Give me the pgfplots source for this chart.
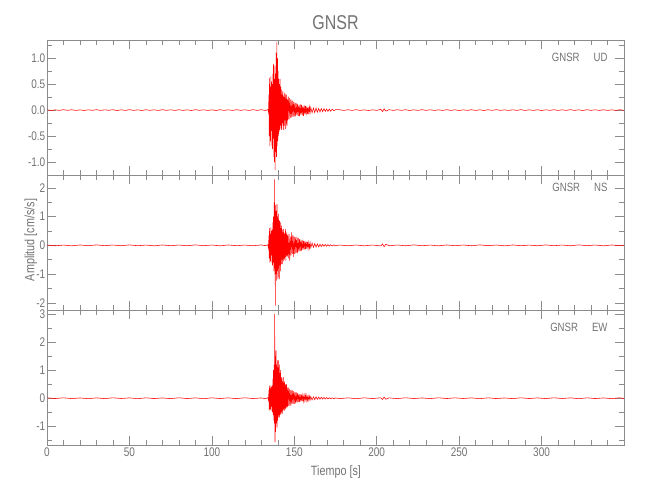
\documentclass[border=0pt]{standalone}
\usepackage{fontspec}
\setmainfont{Liberation Sans}[FakeStretch=0.8]
\usepackage{pgfplots}
\usepackage{pgfplotstable}
\pgfplotsset{compat=1.18}
\definecolor{axgray}{rgb}{0.55,0.55,0.55}
\definecolor{txgray}{rgb}{0.45,0.45,0.45}
\definecolor{seisred}{rgb}{1,0,0}

\pgfplotstableread{
t y
0 0.006
2.5 -0.008
5 0.005
7.5 -0.006
10 0.008
12.5 -0.005
15 0.007
17.5 -0.007
20 0.004
22.5 -0.008
25 0.006
27.5 -0.005
30 0.008
32.5 -0.007
35 0.006
37.5 -0.004
40 0.007
42.5 -0.008
45 0.005
47.5 -0.006
50 0.008
52.5 -0.006
55 0.005
57.5 -0.008
60 0.007
62.5 -0.005
65 0.006
67.5 -0.007
70 0.008
72.5 -0.005
75 0.006
77.5 -0.007
80 0.007
82.5 -0.006
85 0.005
87.5 -0.008
90 0.008
92.5 -0.005
95 0.006
97.5 -0.007
100 0.005
102.5 -0.008
105 0.007
107.5 -0.006
110 0.006
112.5 -0.007
115 0.008
117.5 -0.005
120 0.006
122.5 -0.007
125 0.008
127.5 -0.006
130 0.007
132.5 -0.008
134.0 0.01
134.4 -0.05
134.6 0.3
134.8 -0.5
135.0 0.62
135.2 -0.7
135.4 0.45
135.6 -0.6
135.8 0.65
136.0 -0.4
136.2 0.55
136.4 -0.68
136.6 0.5
136.8 -0.75
137.0 0.7
137.2 -0.55
137.4 0.88
137.6 -0.9
137.8 0.6
138.0 -1.0
138.2 0.85
138.4 -1.15
138.6 0.7
138.8 -0.8
139.0 1.1
139.2 -0.9
139.4 1.32
139.6 -0.7
139.8 1.0
140.0 -0.6
140.2 0.75
140.4 -0.5
140.6 0.6
140.8 -0.42
141.0 0.5
141.2 -0.38
141.4 0.6
141.6 -0.3
141.8 0.45
142.0 -0.35
142.2 0.4
142.4 -0.38
142.6 0.3
142.8 -0.25
143.0 0.36
143.2 -0.3
143.4 0.28
143.6 -0.38
143.8 0.25
144.0 -0.3
144.2 0.33
144.4 -0.2
144.6 0.3
144.8 -0.36
145.0 0.22
145.2 -0.25
145.4 0.3
145.6 -0.3
145.8 0.2
146.0 -0.2
146.4 0.26
146.8 -0.18
147.2 0.23
147.6 -0.15
148.0 0.2
148.4 -0.14
148.8 0.18
149.2 -0.13
149.6 0.16
150.0 -0.12
150.4 0.15
150.8 -0.12
151.2 0.13
151.6 -0.1
152.0 0.12
152.4 -0.11
152.8 0.1
153.2 -0.12
153.6 0.11
154.0 -0.09
154.4 0.1
154.8 -0.1
155.2 0.08
155.6 -0.11
156.0 0.09
156.4 -0.08
156.8 0.08
157.2 -0.1
157.6 0.07
158.0 -0.07
158.4 0.06
158.8 -0.08
159.2 0.06
159.6 -0.05
160.0 0.05
160.8 -0.05
161.6 0.04
162.4 -0.05
163.2 0.04
164.0 -0.04
164.8 0.03
165.6 -0.035
166.4 0.03
167.2 -0.03
168.0 0.025
168.8 -0.025
169.6 0.02
170.4 -0.025
171.2 0.02
172.0 -0.02
173.0 0.015
174.0 -0.012
175.0 0.01
177.5 0.006
180 -0.007
182.5 0.007
185 -0.006
187.5 0.008
190 -0.006
192.5 0.005
195 -0.008
197.5 0.006
200 -0.007
202.5 0.015
203.5 -0.03
204.5 0.025
205.5 -0.02
207.5 0.008
210 -0.006
212.5 0.007
215 -0.005
217.5 0.007
220 -0.008
222.5 0.006
225 -0.006
227.5 0.008
230 -0.005
232.5 0.006
235 -0.007
237.5 0.005
240 -0.007
242.5 0.008
245 -0.006
247.5 0.006
250 -0.008
252.5 0.005
255 -0.006
257.5 0.007
260 -0.007
262.5 0.006
265 -0.008
267.5 0.007
270 -0.005
272.5 0.008
275 -0.006
277.5 0.005
280 -0.007
282.5 0.006
285 -0.006
287.5 0.008
290 -0.007
292.5 0.005
295 -0.006
297.5 0.007
300 -0.008
302.5 0.006
305 -0.005
307.5 0.007
310 -0.007
312.5 0.006
315 -0.006
317.5 0.008
320 -0.006
322.5 0.005
325 -0.008
327.5 0.007
330 -0.005
332.5 0.006
335 -0.007
337.5 0.007
340 -0.006
342.5 0.005
345 -0.006
347.5 0.007
350 -0.005
}\udtable

\pgfplotstableread{
t y
0 0.012
5 -0.014
10 0.01
15 -0.016
20 0.014
25 -0.012
30 0.016
35 -0.01
40 0.012
45 -0.014
50 0.016
55 -0.012
60 0.01
65 -0.016
70 0.014
75 -0.012
80 0.012
85 -0.014
90 0.016
95 -0.01
100 0.012
105 -0.016
110 0.014
115 -0.012
120 0.01
125 -0.014
130 0.016
132.5 -0.012
134.0 0.02
134.4 -0.1
134.6 0.35
134.8 -0.45
135.0 0.6
135.2 -0.6
135.4 0.4
135.6 -0.55
135.8 0.63
136.0 -0.35
136.2 0.5
136.4 -0.6
136.6 0.55
136.8 -0.7
137.0 0.8
137.2 -0.6
137.4 1.0
137.6 -0.9
137.8 1.5
138.0 -0.8
138.1 2.3
138.2 -1.0
138.35 1.2
138.5 -2.1
138.7 1.4
138.9 -1.0
139.1 1.2
139.3 -1.23
139.5 1.44
139.7 -0.9
139.9 1.0
140.1 -1.17
140.3 1.1
140.5 -0.8
140.7 0.9
140.9 -1.17
141.1 0.85
141.3 -0.7
141.5 0.8
141.7 -0.9
141.9 0.6
142.1 -0.65
142.3 0.7
142.5 -0.5
142.7 0.55
142.9 -0.65
143.1 0.45
143.3 -0.55
143.5 0.57
143.7 -0.45
143.9 0.4
144.1 -0.5
144.3 0.45
144.5 -0.4
144.7 0.57
144.9 -0.53
145.1 0.4
145.3 -0.35
145.5 0.45
145.7 -0.4
146.0 0.35
146.4 -0.45
146.8 0.4
147.2 -0.53
147.6 0.3
148.0 -0.35
148.4 0.45
148.8 -0.3
149.2 0.35
149.6 -0.4
150.0 0.3
150.4 -0.3
150.8 0.28
151.2 -0.25
151.6 0.3
152.0 -0.28
152.4 0.25
152.8 -0.22
153.2 0.22
153.6 -0.2
154.0 0.2
154.4 -0.18
154.8 0.18
155.2 -0.16
155.6 0.16
156.0 -0.15
156.4 0.15
156.8 -0.13
157.2 0.14
157.6 -0.12
158.0 0.12
158.4 -0.11
158.8 0.1
159.2 -0.1
159.6 0.09
160.0 -0.08
160.8 0.08
161.6 -0.07
162.4 0.06
163.2 -0.06
164.0 0.05
164.8 -0.05
165.6 0.04
166.4 -0.04
167.2 0.035
168.0 -0.03
168.8 0.03
169.6 -0.03
170.4 0.025
171.2 -0.025
172.0 0.02
173.0 -0.02
174.0 0.015
175.0 -0.015
177.5 0.012
182.5 -0.014
187.5 0.012
192.5 -0.016
197.5 0.012
202.5 -0.02
203.5 0.05
204.5 -0.05
205.5 0.04
207.5 -0.014
212.5 0.012
217.5 -0.014
222.5 0.016
227.5 -0.012
232.5 0.01
237.5 -0.016
242.5 0.014
247.5 -0.012
252.5 0.012
257.5 -0.014
262.5 0.016
267.5 -0.01
272.5 0.012
277.5 -0.016
282.5 0.014
287.5 -0.012
292.5 0.01
297.5 -0.014
302.5 0.016
307.5 -0.012
312.5 0.012
317.5 -0.014
322.5 0.016
327.5 -0.01
332.5 0.012
337.5 -0.016
342.5 0.014
347.5 -0.012
350 0.01
}\nstable

\pgfplotstableread{
t y
0 0.014
5 -0.012
10 0.016
15 -0.014
20 0.01
25 -0.016
30 0.012
35 -0.014
40 0.016
45 -0.01
50 0.012
55 -0.016
60 0.014
65 -0.012
70 0.01
75 -0.014
80 0.016
85 -0.012
90 0.012
95 -0.016
100 0.014
105 -0.01
110 0.012
115 -0.014
120 0.016
125 -0.012
130 0.01
132.5 -0.014
134.0 0.02
134.4 -0.08
134.6 0.3
134.8 -0.4
135.0 0.45
135.2 -0.44
135.4 0.35
135.6 -0.4
135.8 0.45
136.0 -0.3
136.2 0.4
136.4 -0.44
136.6 0.45
136.8 -0.5
137.0 0.7
137.2 -0.6
137.4 1.0
137.6 -0.8
137.8 1.2
138.0 -0.9
138.1 3.0
138.3 -1.57
138.5 1.5
138.7 -1.2
138.9 1.7
139.1 -0.9
139.3 1.2
139.5 -1.04
139.7 1.35
139.9 -0.8
140.1 1.1
140.3 -0.68
140.5 1.35
140.7 -0.6
140.9 1.2
141.1 -0.68
141.3 0.9
141.5 -0.55
141.7 1.0
141.9 -0.6
142.1 0.75
142.3 -0.5
142.5 0.7
142.7 -0.55
142.9 0.6
143.1 -0.44
143.3 0.75
143.5 -0.4
143.7 0.55
143.9 -0.44
144.1 0.6
144.3 -0.35
144.5 0.5
144.7 -0.4
144.9 0.45
145.1 -0.3
145.3 0.5
145.5 -0.35
145.7 0.4
146.0 -0.3
146.4 0.38
146.8 -0.28
147.2 0.33
147.6 -0.26
148.0 0.3
148.4 -0.22
148.8 0.28
149.2 -0.2
149.6 0.25
150.0 -0.2
150.4 0.22
150.8 -0.18
151.2 0.21
151.6 -0.16
152.0 0.18
152.4 -0.14
152.8 0.16
153.2 -0.13
153.6 0.14
154.0 -0.12
154.4 0.13
154.8 -0.11
155.2 0.12
155.6 -0.1
156.0 0.11
156.4 -0.09
156.8 0.1
157.2 -0.09
157.6 0.1
158.0 -0.08
158.4 0.08
158.8 -0.07
159.2 0.07
159.6 -0.06
160.0 0.06
160.8 -0.06
161.6 0.05
162.4 -0.05
163.2 0.05
164.0 -0.04
164.8 0.04
165.6 -0.035
166.4 0.035
167.2 -0.03
168.0 0.03
168.8 -0.03
169.6 0.025
170.4 -0.025
171.2 0.02
172.0 -0.02
173.0 0.015
174.0 -0.015
175.0 0.012
177.5 -0.014
182.5 0.012
187.5 -0.016
192.5 0.014
197.5 -0.012
202.5 0.016
203.5 -0.045
204.5 0.04
205.5 -0.035
207.5 0.012
212.5 -0.014
217.5 0.016
222.5 -0.012
227.5 0.01
232.5 -0.014
237.5 0.016
242.5 -0.012
247.5 0.014
252.5 -0.01
257.5 0.012
262.5 -0.016
267.5 0.014
272.5 -0.012
277.5 0.01
282.5 -0.014
287.5 0.016
292.5 -0.012
297.5 0.012
302.5 -0.014
307.5 0.016
312.5 -0.01
317.5 0.012
322.5 -0.016
327.5 0.014
332.5 -0.012
337.5 0.01
342.5 -0.014
347.5 0.016
350 -0.012
}\ewtable

\pgfplotsset{
  seis/.style={
    scale only axis, width=577pt, height=135pt, anchor=south west,
    xmin=0, xmax=350,
    xtick={0,50,...,300},
    minor xtick={10,20,30,40,60,70,80,90,110,120,130,140,160,170,180,190,210,220,230,240,260,270,280,290,310,320,330,340},
    tick align=inside, major tick length=9pt, minor tick length=5pt,
    axis line style={axgray, line width=0.6pt},
    every tick/.style={axgray, line width=0.6pt},
    every minor tick/.style={axgray, line width=0.6pt},
    tick label style={text=txgray, font=\fontsize{12.5}{14}\selectfont},
    /pgf/number format/assume math mode=true,
    yticklabel style={inner xsep=1.5pt},
    xticklabel style={inner ysep=3pt},
    clip=true,
  },
  trace/.style={seisred, line width=0.55pt, no marks},
}

\begin{document}
\begin{tikzpicture}[x=1pt,y=1pt]
\useasboundingbox (0,0) rectangle (650,500);

\begin{axis}[seis, at={(47pt,325pt)},
  ymin=-1.25, ymax=1.35,
  ytick={-1,-0.5,0,0.5,1},
  minor ytick={-1.25,-0.75,-0.25,0.25,0.75,1.25},
  yticklabel style={/pgf/number format/.cd, fixed, fixed zerofill, precision=1},
  xticklabels={}]
\addplot[trace] table[x=t,y=y] {\udtable};
\end{axis}

\begin{axis}[seis, at={(47pt,190pt)},
  ymin=-2.25, ymax=2.45,
  ytick={-2,-1,0,1,2},
  minor ytick={-1.5,-0.5,0.5,1.5},
  xticklabels={}]
\addplot[trace] table[x=t,y=y] {\nstable};
\end{axis}

\begin{axis}[seis, at={(47pt,55pt)},
  ymin=-1.67, ymax=3.15,
  ytick={-1,0,1,2,3},
  minor ytick={-1.5,-0.5,0.5,1.5,2.5}]
\addplot[trace] table[x=t,y=y] {\ewtable};
\end{axis}

\node[text=txgray, font=\fontsize{20}{22}\selectfont] at (335.5,477.5) {GNSR};
\node[text=txgray, font=\fontsize{13.5}{15}\selectfont] at (336,28) {Tiempo [s]};
\node[text=txgray, font=\fontsize{13.5}{15}\selectfont, rotate=90] at (31,260) {Amplitud [cm/s/s]};
\node[text=txgray, font=\fontsize{12}{13}\selectfont, anchor=east] at (611,442.5) {GNSR\hspace{14pt}UD};
\node[text=txgray, font=\fontsize{12}{13}\selectfont, anchor=east] at (611,312.5) {GNSR\hspace{14pt}NS};
\node[text=txgray, font=\fontsize{12}{13}\selectfont, anchor=east] at (611,172.5) {GNSR\hspace{14pt}EW};
\end{tikzpicture}
\end{document}
